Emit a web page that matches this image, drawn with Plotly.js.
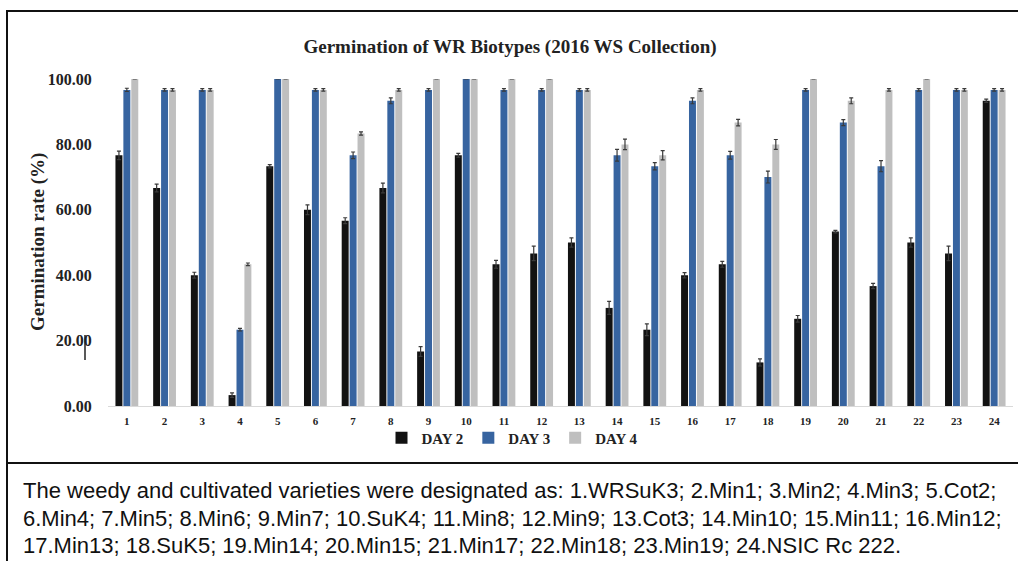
<!DOCTYPE html>
<html>
<head>
<meta charset="utf-8">
<script src="https://cdn.plot.ly/plotly-3.0.1.min.js"></script>
<style>
html,body{margin:0;padding:0;background:#fff;}
#chart{width:1018px;height:561px;}
</style>
</head>
<body>
<div id="chart"></div>
<script>
// ---- data ----
const categories = ['1','2','3','4','5','6','7','8','9','10','11','12','13','14','15','16','17','18','19','20','21','22','23','24'];
const day2 = [76.67,66.67,40.00,3.33,73.33,60.00,56.67,66.67,16.67,76.67,43.33,46.67,50.00,30.00,23.33,40.00,43.33,13.33,26.67,53.33,36.67,50.00,46.67,93.33];
const day3 = [96.67,96.67,96.67,23.33,100.00,96.67,76.67,93.33,96.67,100.00,96.67,96.67,96.67,76.67,73.33,93.33,76.67,70.00,96.67,86.67,73.33,96.67,96.67,96.67];
const day4 = [100.00,96.67,96.67,43.33,100.00,96.67,83.33,96.67,100.00,100.00,100.00,100.00,96.67,80.00,76.67,96.67,86.67,80.00,100.00,93.33,96.67,100.00,96.67,96.67];
const err2 = [1.3,1.2,0.9,0.7,0.5,1.5,0.9,1.5,1.5,0.6,1.2,2.2,1.4,2.0,1.8,0.8,0.9,1.1,1.0,0.4,0.8,1.4,2.2,0.5];
const err3 = [0.5,0.4,0.4,0.4,0,0.4,1.0,0.9,0.4,0,0.4,0.4,0.4,1.8,1.1,0.9,1.2,1.8,0.4,0.9,1.7,0.4,0.4,0.4];
const err4 = [0,0.4,0.4,0.4,0,0.4,0.5,0.4,0,0,0,0,0.4,1.6,1.4,0.4,1.0,1.5,0,0.9,0.4,0,0.4,0.4];
const seriesNames = ['DAY 2','DAY 3','DAY 4'];
const yTicks = [0,20,40,60,80,100];
const chartTitle = 'Germination of WR Biotypes (2016 WS Collection)';
const yTitle = 'Germination rate (%)';
const captionLines = [
  'The weedy and cultivated varieties were designated as: 1.WRSuK3; 2.Min1; 3.Min2; 4.Min3; 5.Cot2;',
  '6.Min4; 7.Min5; 8.Min6; 9.Min7; 10.SuK4; 11.Min8; 12.Min9; 13.Cot3; 14.Min10; 15.Min11; 16.Min12;',
  '17.Min13; 18.SuK5; 19.Min14; 20.Min15; 21.Min17; 22.Min18; 23.Min19; 24.NSIC Rc 222.'
];

// ---- layout geometry ----
const W = 1018, H = 561;
const M = {l:108, r:5, t:79, b:155};
const PW = W - M.l - M.r, PH = H - M.t - M.b;
const px = x => (x - M.l) / PW;
const py = y => (H - M.b - y) / PH;

const serif = 'Liberation Serif, Times New Roman, serif';
const colors = ['#121212','#3764a0','#bfbfbf'];
const vals = [day2, day3, day4];
const errs = [err2, err3, err4];

const traces = vals.map((v, i) => ({
  type: 'bar',
  name: seriesNames[i],
  x: categories,
  y: v,
  marker: {color: colors[i], line: {width: 0}},
  error_y: {type: 'data', array: errs[i], visible: true, color: '#3a3a3a', thickness: 1.2, width: 2},
  cliponaxis: false,
  hoverinfo: 'skip'
}));

const layout = {
  width: W, height: H,
  margin: M,
  paper_bgcolor: '#fff', plot_bgcolor: '#fff',
  font: {family: serif, color: '#222'},
  title: {text: chartTitle, font: {family: serif, size: 19, weight: 'bold', color: '#222'},
          xref: 'container', x: 0.501, xanchor: 'center', yref: 'container', y: 1 - 46/H, yanchor: 'middle'},
  barmode: 'group', bargap: 0.37, bargroupgap: 0.12,
  showlegend: true,
  legend: {orientation: 'h', xref: 'container', x: 512/W, xanchor: 'center', yref: 'container', y: 1 - 438/H, yanchor: 'middle',
           font: {family: serif, size: 15, weight: 'bold', color: '#222'}, itemwidth: 30,
           traceorder: 'normal', bgcolor: 'rgba(0,0,0,0)'},
  xaxis: {type: 'category', categoryorder: 'array', categoryarray: categories,
          showline: true, linecolor: '#d9d9d9', linewidth: 1, showgrid: false, zeroline: false,
          ticks: 'outside', ticklen: 5, tickcolor: 'rgba(0,0,0,0)',
          tickfont: {family: serif, size: 11, weight: 'bold', color: '#222'}, fixedrange: true},
  yaxis: {range: [0, 100], tickvals: yTicks, tickformat: '.2f', showgrid: false, zeroline: false, showline: false,
          ticks: 'outside', ticklen: 12, tickcolor: 'rgba(0,0,0,0)',
          tickfont: {family: serif, size: 16, weight: 'bold', color: '#222'}, fixedrange: true},
  annotations: [
    {text: yTitle, xref: 'paper', yref: 'paper', x: px(38), y: py(242), textangle: -90,
     showarrow: false, xanchor: 'center', yanchor: 'middle', font: {family: serif, size: 19, weight: 'bold', color: '#222'}}
  ].concat(captionLines.map((t, i) => ({
     text: t, xref: 'paper', yref: 'paper', x: px(21), y: py([490, 518, 545][i]), xanchor: 'left', yanchor: 'middle',
     showarrow: false, font: {family: 'Liberation Sans, Arial, sans-serif', size: 22, color: '#111'}
  }))),
  shapes: [
    {type: 'line', xref: 'paper', yref: 'paper', x0: px(6), x1: px(1020), y0: py(11), y1: py(11), line: {color: '#111', width: 2}},
    {type: 'line', xref: 'paper', yref: 'paper', x0: px(7), x1: px(7), y0: py(10), y1: py(563), line: {color: '#111', width: 2}},
    {type: 'line', xref: 'paper', yref: 'paper', x0: px(6), x1: px(1020), y0: py(463), y1: py(463), line: {color: '#111', width: 2}},
    {type: 'line', xref: 'paper', yref: 'paper', x0: px(85), x1: px(85), y0: py(335), y1: py(360), line: {color: '#222', width: 1.5}}
  ]
};

Plotly.newPlot('chart', traces, layout, {staticPlot: true, displayModeBar: false});
</script>
</body>
</html>
